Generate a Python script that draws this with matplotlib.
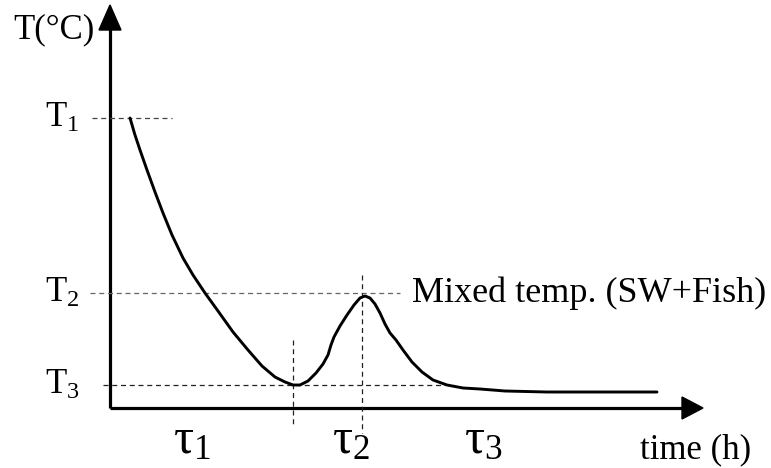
import matplotlib
matplotlib.use("Agg")
import matplotlib.pyplot as plt
from matplotlib.patches import Polygon

# ---- data (schematic units: x = time position, y = temperature position, screen-like) ----
curve_time = [130, 135, 140, 147, 155, 163, 172, 183, 193, 205, 218, 233, 248, 262, 275, 285, 293,
              300, 308, 316, 323, 328, 331, 334, 340, 347, 354, 360, 365, 370, 375, 380, 385,
              390, 396, 403, 412, 422, 433, 447, 463, 480, 505, 547, 600, 657]
curve_temp = [118, 135, 150, 170, 192, 213, 235, 258, 275, 293, 311, 332, 350, 366, 377, 382, 385,
              385, 381, 373, 364, 355, 345, 337, 326, 315, 305, 298, 296, 298, 304, 313, 324,
              333, 340, 350, 362, 372, 380, 385, 388, 389, 391, 392, 392, 392]

level_names = ["T$_1$", "T$_2$", "T$_3$"]
level_pos = [118, 293, 385]
level_x0 = [92, 90, 103]
level_x1 = [172, 400, 445]
phase_names = [r"$\tau_1$", r"$\tau_2$", r"$\tau_3$"]
phase_label_x = [192, 351, 483]
phase_bounds = [293, 362]
phase_bound_top = [340, 275]
phase_bound_bot = [427, 433]

plt.rcParams['font.family'] = ['Liberation Serif', 'DejaVu Serif']
plt.rcParams['mathtext.fontset'] = 'custom'
plt.rcParams['mathtext.rm'] = 'Liberation Serif'
plt.rcParams['mathtext.it'] = 'Liberation Serif'

fig = plt.figure(figsize=(7.71, 4.68), dpi=100)
ax = fig.add_axes([0, 0, 1, 1])
ax.set_xlim(0, 771)
ax.set_ylim(468, 0)
ax.axis('off')

# axes lines
ax.plot([110, 110], [408, 28], color='black', lw=2.3, solid_capstyle='butt')
ax.plot([110, 684], [408, 408], color='black', lw=2.3, solid_capstyle='butt')
ax.add_patch(Polygon([[99, 30], [121, 30], [110, 5]], closed=True, color='black'))
ax.add_patch(Polygon([[682, 397], [682, 419], [703, 408]], closed=True, color='black'))

# level dashed lines
for y, x0, x1, c in zip(level_pos, level_x0, level_x1, ['#444444', '#666666', '#222222']):
    ax.plot([x0, x1], [y, y], color=c, lw=0.9, dashes=(4, 3))
for x, t, b in zip(phase_bounds, phase_bound_top, phase_bound_bot):
    ax.plot([x, x], [t, b], color='#222222', lw=0.9, dashes=(4, 3))

# curve
ax.plot(curve_time, curve_temp, color='black', lw=2.1, solid_joinstyle='round', solid_capstyle='round')

# labels
ax.text(54, 30, "T(°C)", fontsize=25, ha='center', va='center')
for name, y in zip(level_names, level_pos):
    ax.text(62, y, name, fontsize=25, ha='center', va='center')
for name, x in zip(phase_names, phase_label_x):
    ax.text(x, 441, name, fontsize=36, ha='center', va='center')
ax.text(412, 293, "Mixed temp. (SW+Fish)", fontsize=26, ha='left', va='center')
ax.text(696, 450, "time (h)", fontsize=25, ha='center', va='center')

fig.savefig("out.png", dpi=100)
